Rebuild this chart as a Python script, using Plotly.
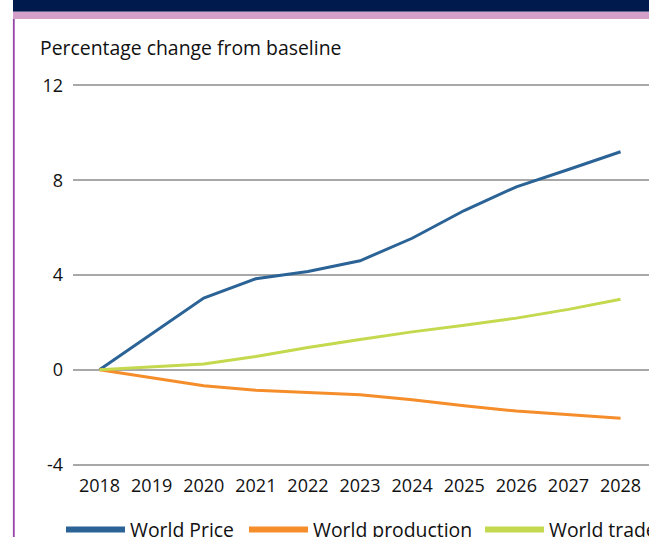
import plotly.graph_objects as go

years = ["2018", "2019", "2020", "2021", "2022", "2023", "2024", "2025", "2026", "2027", "2028"]
world_price = [0, 1.5, 3.03, 3.84, 4.15, 4.6, 5.55, 6.72, 7.72, 8.45, 9.2]
world_production = [0, -0.34, -0.67, -0.86, -0.96, -1.05, -1.26, -1.52, -1.74, -1.9, -2.04]
world_trade = [0, 0.11, 0.25, 0.56, 0.94, 1.28, 1.6, 1.88, 2.18, 2.55, 2.98]
y_ticks = [-4, 0, 4, 8, 12]
y_tick_text = ["-4", "0", "4", "8", "12"]

series = [
    ("World Price", world_price, "#2b6396"),
    ("World production", world_production, "#f58d2b"),
    ("World trade", world_trade, "#c4d94e"),
]
legend_ids = ["legend", "legend2", "legend3"]
legend_x = [61, 244, 480]

FONT = "Open Sans"
T, B = 83, 70
H = 537 - T - B

fig = go.Figure()
for name, vals, col in series:
    fig.add_trace(go.Scatter(x=years, y=vals, mode="lines", name=name,
                             line=dict(color=col, width=3), showlegend=False))
for (name, vals, col), lid in zip(series, legend_ids):
    fig.add_trace(go.Scatter(x=[None], y=[None], mode="lines", name=name,
                             line=dict(color=col, width=6), showlegend=True, legend=lid))

legend_common = dict(orientation="h", xref="container", yref="container",
                     xanchor="left", y=7/537, yanchor="middle", itemwidth=59,
                     font=dict(family=FONT, size=19.4, color="#111111"),
                     bgcolor="rgba(0,0,0,0)")

fig.update_layout(
    width=649, height=537,
    margin=dict(l=73, r=0, t=T, b=B),
    paper_bgcolor="white", plot_bgcolor="white",
    font=dict(family=FONT, size=18, color="#111111"),
    title=dict(text="Percentage change from baseline", x=40/649, xanchor="left",
               xref="container", yref="container", y=1-48/537, yanchor="middle",
               font=dict(family=FONT, size=19.4, color="#111111")),
    xaxis=dict(type="category", categoryorder="array", categoryarray=years,
               range=[-0.509, 10.546], showgrid=False, zeroline=False, showline=False,
               ticks="", ticklabelstandoff=6, tickfont=dict(size=18)),
    yaxis=dict(range=[-4.1, 12.1], tickvals=y_ticks, ticktext=y_tick_text,
               showgrid=True, gridcolor="#a8a8a8",
               gridwidth=1.5, zeroline=False, showline=False, ticks="",
               ticklabelstandoff=9, tickfont=dict(size=18)),
    legend=dict(legend_common, x=legend_x[0]/649),
    legend2=dict(legend_common, x=legend_x[1]/649),
    legend3=dict(legend_common, x=legend_x[2]/649),
    shapes=[
        dict(type="rect", xref="paper", yref="paper", x0=-60/576, x1=1.01,
             y0=1+(T-11.7)/H, y1=1+T/H+0.01, fillcolor="#001a4d", line=dict(width=0), layer="above"),
        dict(type="rect", xref="paper", yref="paper", x0=-60/576, x1=1.01,
             y0=1+(T-19)/H, y1=1+(T-11.7)/H, fillcolor="#d49fc8", line=dict(width=0), layer="above"),
        dict(type="line", xref="paper", yref="paper", x0=-59.2/576, x1=-59.2/576,
             y0=-B/H-0.01, y1=1+(T-19)/H, line=dict(color="#9645a6", width=1.8), layer="above"),
    ],
)

fig.write_html("out.html")
